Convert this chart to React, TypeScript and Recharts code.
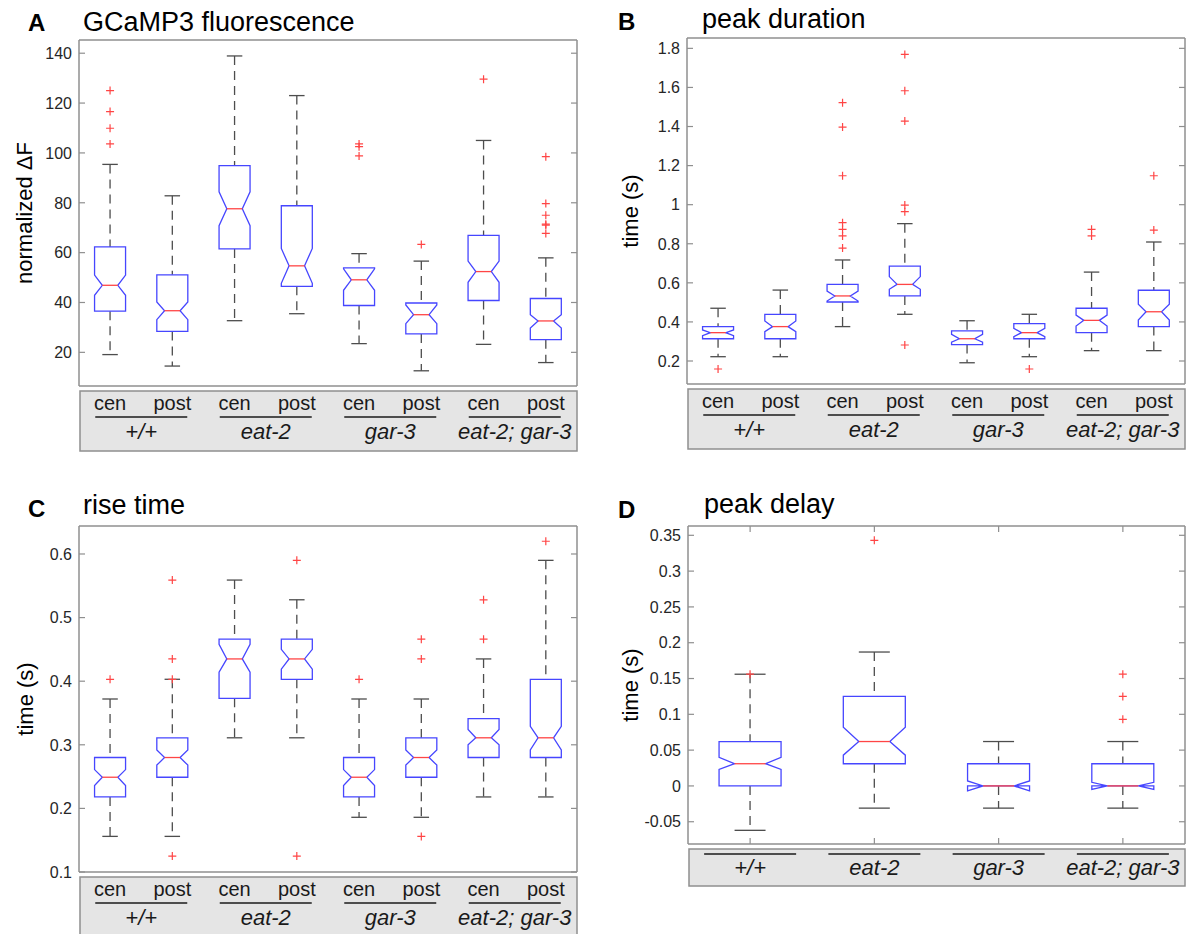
import React from "react";
import { ComposedChart, Bar, XAxis, YAxis } from "recharts";

const sites = ["cen", "post"];
const strains = ["+/+", "eat-2", "gar-3", "eat-2; gar-3"];

// A: GCaMP3 fluorescence (normalized ΔF)
const fluorUpper = [95.4, 82.8, 138.9, 123, 59.6, 56.6, 105, 57.9];
const fluorQ3 = [62.3, 51.1, 94.9, 78.8, 53.9, 39.8, 66.9, 41.6];
const fluorMedian = [46.9, 36.7, 77.6, 54.7, 49.1, 35.1, 52.4, 32.6];
const fluorQ1 = [36.5, 28.4, 61.5, 46.5, 38.8, 27.4, 40.8, 25.1];
const fluorLower = [19.1, 14.5, 32.7, 35.5, 23.5, 12.6, 23.2, 15.9];
const fluorNotchHi = [51, 40.2, 84.4, 61.7, 53.5, 39, 56.6, 35.1];
const fluorNotchLo = [42.9, 33.1, 70.8, 47.7, 44.9, 31.5, 48.1, 29.8];
const fluorOutliers = [[125, 116.6, 109.9, 103.6], [], [], [], [103.6, 102.5, 98.8], [63.3], [129.6], [98.5, 79.7, 75, 71.4, 71, 67.7]];

// B: peak duration (s)
const durUpper = [0.47, 0.563, 0.717, 0.903, 0.406, 0.439, 0.655, 0.809];
const durQ3 = [0.376, 0.439, 0.592, 0.686, 0.354, 0.391, 0.47, 0.562];
const durMedian = [0.345, 0.376, 0.533, 0.592, 0.314, 0.345, 0.408, 0.452];
const durQ1 = [0.314, 0.314, 0.502, 0.533, 0.284, 0.314, 0.345, 0.376];
const durLower = [0.222, 0.222, 0.376, 0.439, 0.191, 0.222, 0.253, 0.253];
const durNotchHi = [0.359, 0.405, 0.558, 0.632, 0.336, 0.367, 0.435, 0.49];
const durNotchLo = [0.33, 0.35, 0.507, 0.567, 0.296, 0.325, 0.379, 0.41];
const durOutliers = [[0.159], [], [1.522, 1.397, 1.148, 0.908, 0.874, 0.84, 0.778], [1.769, 1.583, 1.428, 0.998, 0.964, 0.282], [], [0.159], [0.874, 0.84], [1.148, 0.87]];

// C: rise time (s)
const riseUpper = [0.372, 0.403, 0.559, 0.528, 0.372, 0.372, 0.435, 0.59];
const riseQ3 = [0.28, 0.311, 0.466, 0.466, 0.28, 0.311, 0.341, 0.403];
const riseMedian = [0.249, 0.28, 0.435, 0.435, 0.249, 0.28, 0.311, 0.311];
const riseQ1 = [0.218, 0.249, 0.373, 0.403, 0.218, 0.249, 0.28, 0.28];
const riseLower = [0.156, 0.156, 0.311, 0.311, 0.186, 0.186, 0.218, 0.218];
const riseNotchHi = [0.261, 0.292, 0.458, 0.45, 0.261, 0.292, 0.324, 0.329];
const riseNotchLo = [0.236, 0.268, 0.414, 0.419, 0.236, 0.268, 0.3, 0.292];
const riseOutliers = [[0.403], [0.559, 0.435, 0.403, 0.125], [], [0.59, 0.125], [0.403], [0.466, 0.435, 0.156], [0.528, 0.466], [0.62]];

// D: peak delay (s)
const delayUpper = [0.156, 0.187, 0.062, 0.062];
const delayQ3 = [0.062, 0.125, 0.031, 0.031];
const delayMedian = [0.031, 0.062, 0, 0];
const delayQ1 = [0, 0.031, 0, 0];
const delayLower = [-0.062, -0.031, -0.031, -0.031];
const delayNotchHi = [0.04, 0.082, 0.007, 0.005];
const delayNotchLo = [0.023, 0.043, -0.007, -0.005];
const delayOutliers = [[0.156], [0.343], [], [0.156, 0.125, 0.093]];

const fluorTicks = [20, 40, 60, 80, 100, 120, 140];
const durTicks = [0.2, 0.4, 0.6, 0.8, 1, 1.2, 1.4, 1.6, 1.8];
const riseTicks = [0.1, 0.2, 0.3, 0.4, 0.5, 0.6];
const delayTicks = [-0.05, 0, 0.05, 0.1, 0.15, 0.2, 0.25, 0.3, 0.35];

type Row = {
  name: string;
  upper: number;
  q3: number;
  median: number;
  q1: number;
  lower: number;
  notchHi: number;
  notchLo: number;
  outliers: number[];
};

const makeRows = (
  names: string[],
  upper: number[],
  q3: number[],
  median: number[],
  q1: number[],
  lower: number[],
  notchHi: number[],
  notchLo: number[],
  outliers: number[][]
): Row[] =>
  names.map((name, i) => ({
    name,
    upper: upper[i],
    q3: q3[i],
    median: median[i],
    q1: q1[i],
    lower: lower[i],
    notchHi: notchHi[i],
    notchLo: notchLo[i],
    outliers: outliers[i],
  }));

const pairedNames = strains.flatMap((s) => sites.map((t) => `${s} ${t}`));

const FONT = "'Liberation Sans', Arial, Helvetica, sans-serif";
const FRAME = "#8f8f8f";
const BLUE = "#4646ff";
const RED = "#ff4545";
const WHISKER = "#4d4d4d";

const fmt = (v: number) => String(parseFloat(v.toFixed(3)));

// box drawn from the whisker range bar: y/height map lower..upper onto pixels
const BoxShape = (props: any) => {
  const { x, y, width, height, payload } = props;
  const p: Row = payload;
  const span = p.upper - p.lower;
  const py = (v: number) => y + (height * (p.upper - v)) / span;
  const cx = x + width / 2;
  const l = x;
  const r = x + width;
  const d = width / 4;
  const box =
    `M${l},${py(p.q3)} L${r},${py(p.q3)} L${r},${py(p.notchHi)} L${r - d},${py(p.median)} ` +
    `L${r},${py(p.notchLo)} L${r},${py(p.q1)} L${l},${py(p.q1)} L${l},${py(p.notchLo)} ` +
    `L${l + d},${py(p.median)} L${l},${py(p.notchHi)} Z`;
  return (
    <g>
      <line x1={cx} x2={cx} y1={py(p.upper)} y2={py(p.q3)} stroke={WHISKER} strokeWidth={1.3} strokeDasharray="9 6" />
      <line x1={cx} x2={cx} y1={py(p.q1)} y2={py(p.lower)} stroke={WHISKER} strokeWidth={1.3} strokeDasharray="9 6" />
      <line x1={cx - d} x2={cx + d} y1={py(p.upper)} y2={py(p.upper)} stroke={WHISKER} strokeWidth={1.3} />
      <line x1={cx - d} x2={cx + d} y1={py(p.lower)} y2={py(p.lower)} stroke={WHISKER} strokeWidth={1.3} />
      <path d={box} fill="none" stroke={BLUE} strokeWidth={1.3} />
      <line x1={l + d} x2={r - d} y1={py(p.median)} y2={py(p.median)} stroke={RED} strokeWidth={1.3} />
      {p.outliers.map((o, k) => (
        <path key={k} d={`M${cx - 4},${py(o)}h8M${cx},${py(o) - 4}v8`} stroke={RED} strokeWidth={1.2} fill="none" />
      ))}
    </g>
  );
};

const LeftTick = (props: any) => {
  const { x, y, payload } = props;
  return (
    <g>
      <line x1={x} x2={x + 6} y1={y} y2={y} stroke={FRAME} strokeWidth={1.2} />
      <text x={x - 7} y={y} dy="0.36em" textAnchor="end" fontSize={16} fill="#262626" fontFamily={FONT}>
        {fmt(payload.value)}
      </text>
    </g>
  );
};

const RightTick = (props: any) => {
  const { x, y } = props;
  return <line x1={x} x2={x - 6} y1={y} y2={y} stroke={FRAME} strokeWidth={1.2} />;
};

const TopTick = (props: any) => {
  const { x, y } = props;
  return <line x1={x} x2={x} y1={y} y2={y + 6} stroke={FRAME} strokeWidth={1.2} />;
};

const BottomTick = (props: any) => {
  const { x, y } = props;
  return <line x1={x} x2={x} y1={y} y2={y - 6} stroke={FRAME} strokeWidth={1.2} />;
};

type PanelDef = {
  letter: string;
  title: string;
  yLabel: string;
  rows: Row[];
  domain: [number, number];
  ticks: number[];
  paired: boolean;
  left: number;
  top: number;
  w: number;
  h: number;
  boxH: number;
  letterX: number;
  letterY: number;
  titleX: number;
  titleY: number;
  yLabelX: number;
};

const panels: PanelDef[] = [
  {
    letter: "A", title: "GCaMP3 fluorescence", yLabel: "normalized ΔF",
    rows: makeRows(pairedNames, fluorUpper, fluorQ3, fluorMedian, fluorQ1, fluorLower, fluorNotchHi, fluorNotchLo, fluorOutliers),
    domain: [6.5, 145.3], ticks: fluorTicks, paired: true,
    left: 79, top: 40, w: 498, h: 346, boxH: 60,
    letterX: 28, letterY: 31, titleX: 83, titleY: 31, yLabelX: 24,
  },
  {
    letter: "B", title: "peak duration", yLabel: "time (s)",
    rows: makeRows(pairedNames, durUpper, durQ3, durMedian, durQ1, durLower, durNotchHi, durNotchLo, durOutliers),
    domain: [0.0823, 1.853], ticks: durTicks, paired: true,
    left: 687, top: 38, w: 498, h: 346, boxH: 60,
    letterX: 618, letterY: 30, titleX: 702, titleY: 28, yLabelX: 630,
  },
  {
    letter: "C", title: "rise time", yLabel: "time (s)",
    rows: makeRows(pairedNames, riseUpper, riseQ3, riseMedian, riseQ1, riseLower, riseNotchHi, riseNotchLo, riseOutliers),
    domain: [0.1, 0.644], ticks: riseTicks, paired: true,
    left: 79, top: 526, w: 498, h: 346, boxH: 62,
    letterX: 28, letterY: 517, titleX: 83, titleY: 514, yLabelX: 25,
  },
  {
    letter: "D", title: "peak delay", yLabel: "time (s)",
    rows: makeRows(strains, delayUpper, delayQ3, delayMedian, delayQ1, delayLower, delayNotchHi, delayNotchLo, delayOutliers),
    domain: [-0.0811, 0.363], ticks: delayTicks, paired: false,
    left: 688, top: 526, w: 497, h: 318, boxH: 37,
    letterX: 618, letterY: 518, titleX: 704, titleY: 513, yLabelX: 630,
  },
];

const Decorations = ({ p }: { p: PanelDef }) => {
  const bottom = p.top + p.h;
  const groupSlot = p.w / strains.length;
  const slot = p.w / p.rows.length;
  return (
    <g fontFamily={FONT}>
      <text x={p.letterX} y={p.letterY} fontSize={24} fontWeight="bold" fill="#000">{p.letter}</text>
      <text x={p.titleX} y={p.titleY} fontSize={27} fill="#000">{p.title}</text>
      <text
        x={p.yLabelX}
        y={p.top + p.h / 2}
        fontSize={22}
        fill="#000"
        textAnchor="middle"
        dominantBaseline="central"
        transform={`rotate(-90 ${p.yLabelX} ${p.top + p.h / 2})`}
      >
        {p.yLabel}
      </text>
      <rect x={p.left + 1} y={bottom + 5} width={p.w - 1} height={p.boxH} fill="#e5e5e5" stroke={FRAME} strokeWidth={1.5} />
      {strains.map((s, g) => {
        const gc = p.left + groupSlot * (g + 0.5);
        const lineY = p.paired ? bottom + 31 : bottom + 10;
        const nameY = p.paired ? bottom + 53 : bottom + 31;
        return (
          <g key={s}>
            {p.paired &&
              sites.map((t, k) => (
                <text key={t} x={p.left + slot * (2 * g + k + 0.5)} y={bottom + 24} fontSize={20} fill="#1a1a1a" textAnchor="middle">
                  {t}
                </text>
              ))}
            <line x1={gc - 46} x2={gc + 46} y1={lineY} y2={lineY} stroke="#4d4d4d" strokeWidth={2} />
            <text x={gc} y={nameY} fontSize={22} fontStyle="italic" fill="#1a1a1a" textAnchor="middle">{s}</text>
          </g>
        );
      })}
    </g>
  );
};

const Panel = ({ p }: { p: PanelDef }) => (
  <div style={{ position: "absolute", left: p.left - 70, top: p.top - 12 }}>
    <ComposedChart
      width={p.w + 82}
      height={p.h + 24}
      data={p.rows}
      margin={{ top: 11, right: 11, bottom: 11, left: 10 }}
      barCategoryGap="25%"
    >
      <XAxis
        xAxisId="b"
        dataKey="name"
        height={1}
        axisLine={{ stroke: FRAME, strokeWidth: 1.5 }}
        tickLine={false}
        tickSize={0}
        tickMargin={0}
        tick={p.paired ? false : <BottomTick />}
        interval={0}
      />
      <XAxis
        xAxisId="t"
        dataKey="name"
        orientation="top"
        height={1}
        axisLine={{ stroke: FRAME, strokeWidth: 1.5 }}
        tickLine={false}
        tickSize={0}
        tickMargin={0}
        tick={p.paired ? false : <TopTick />}
        interval={0}
      />
      <YAxis
        yAxisId="l"
        type="number"
        domain={p.domain}
        ticks={p.ticks}
        allowDataOverflow
        width={60}
        axisLine={{ stroke: FRAME, strokeWidth: 1.5 }}
        tickLine={false}
        tickSize={0}
        tickMargin={0}
        tick={<LeftTick />}
        interval={0}
      />
      <YAxis
        yAxisId="r"
        orientation="right"
        type="number"
        domain={p.domain}
        ticks={p.ticks}
        allowDataOverflow
        width={1}
        axisLine={{ stroke: FRAME, strokeWidth: 1.5 }}
        tickLine={false}
        tickSize={0}
        tickMargin={0}
        tick={<RightTick />}
        interval={0}
      />
      <Bar
        xAxisId="b"
        yAxisId="l"
        dataKey={(d: Row) => [d.lower, d.upper]}
        fill="none"
        shape={<BoxShape />}
        isAnimationActive={false}
      />
    </ComposedChart>
  </div>
);

export default function App() {
  return (
    <div style={{ position: "absolute", left: 0, top: 0, width: 1188, height: 934, background: "#fff", overflow: "hidden" }}>
      <svg width={1188} height={934} style={{ position: "absolute", left: 0, top: 0 }}>
        {panels.map((p) => (
          <Decorations key={p.letter} p={p} />
        ))}
      </svg>
      {panels.map((p) => (
        <Panel key={p.letter} p={p} />
      ))}
    </div>
  );
}
